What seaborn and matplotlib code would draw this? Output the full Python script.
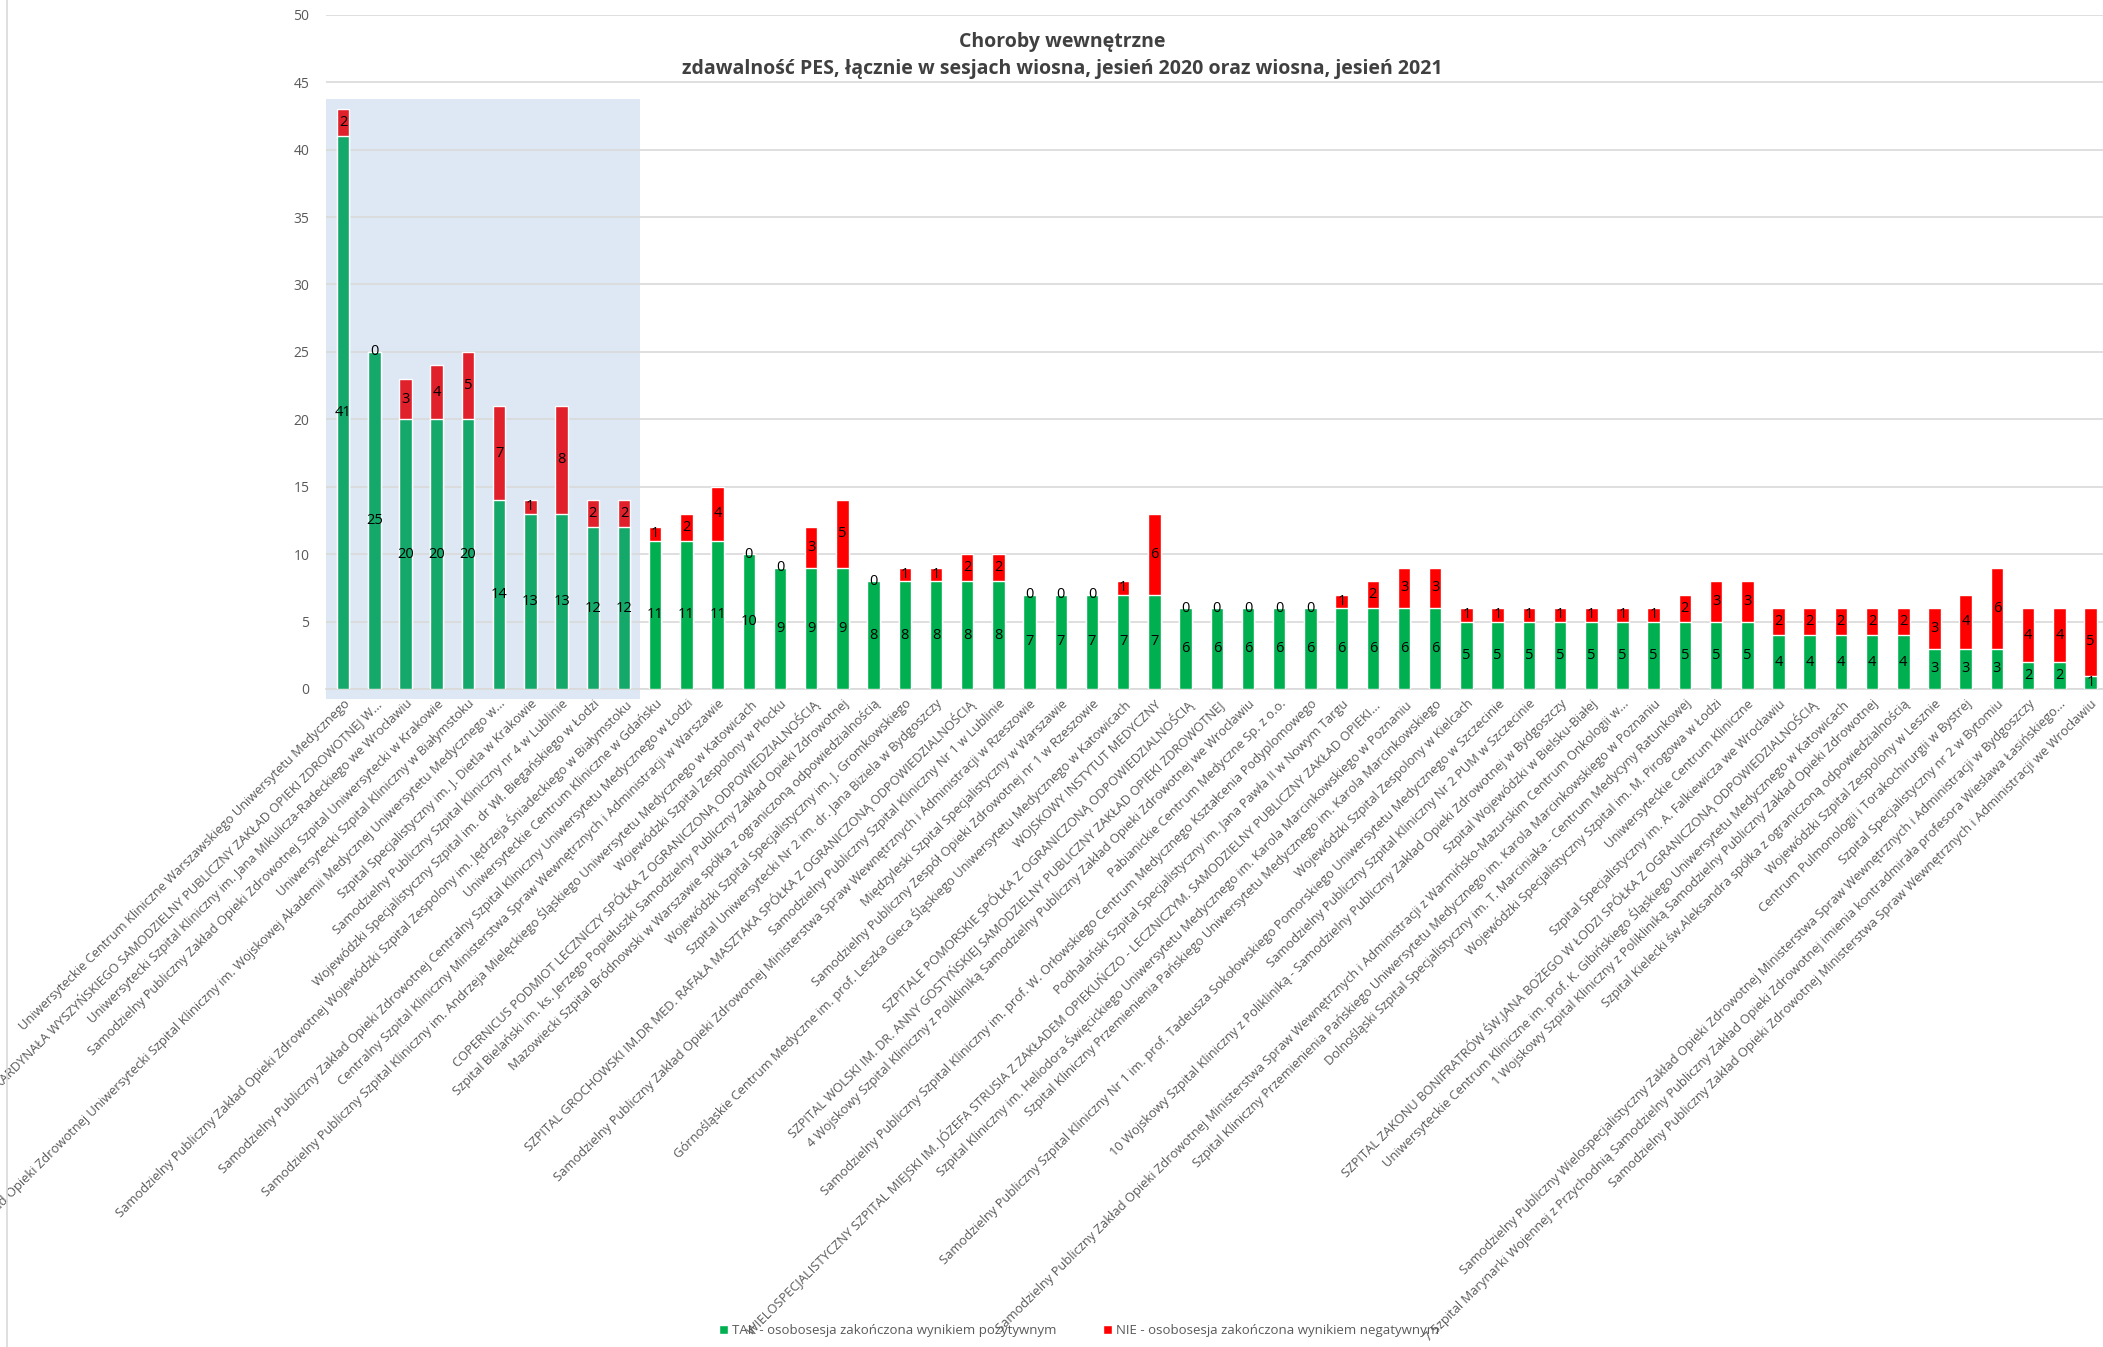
import pandas as pd
import matplotlib
matplotlib.use("Agg")
import matplotlib.pyplot as plt
import seaborn as sns
from matplotlib.patches import Rectangle, Patch
from matplotlib.lines import Line2D

szpitale = [
    "Uniwersyteckie Centrum Kliniczne Warszawskiego Uniwersytetu Medycznego",
    "WOJEWÓDZKI SZPITAL SPECJALISTYCZNY IM. STEFANA KARDYNAŁA WYSZYŃSKIEGO SAMODZIELNY PUBLICZNY ZAKŁAD OPIEKI ZDROWOTNEJ W...",
    "Uniwersytecki Szpital Kliniczny im. Jana Mikulicza-Radeckiego we Wrocławiu",
    "Samodzielny Publiczny Zakład Opieki Zdrowotnej Szpital Uniwersytecki w Krakowie",
    "Uniwersytecki Szpital Kliniczny w Białymstoku",
    "Samodzielny Publiczny Zakład Opieki Zdrowotnej Uniwersytecki Szpital Kliniczny im. Wojskowej Akademii Medycznej Uniwersytetu Medycznego w...",
    "Szpital Specjalistyczny im. J. Dietla w Krakowie",
    "Samodzielny Publiczny Szpital Kliniczny nr 4 w Lublinie",
    "Wojewódzki Specjalistyczny Szpital im. dr Wł. Biegańskiego w Łodzi",
    "Samodzielny Publiczny Zakład Opieki Zdrowotnej Wojewódzki Szpital Zespolony im. Jędrzeja Śniadeckiego w Białymstoku",
    "Uniwersyteckie Centrum Kliniczne w Gdańsku",
    "Samodzielny Publiczny Zakład Opieki Zdrowotnej Centralny Szpital Kliniczny Uniwersytetu Medycznego w Łodzi",
    "Centralny Szpital Kliniczny Ministerstwa Spraw Wewnętrznych i Administracji w Warszawie",
    "Samodzielny Publiczny Szpital Kliniczny im. Andrzeja Mielęckiego Śląskiego Uniwersytetu Medycznego w Katowicach",
    "Wojewódzki Szpital Zespolony w Płocku",
    "COPERNICUS PODMIOT LECZNICZY SPÓŁKA Z OGRANICZONĄ ODPOWIEDZIALNOŚCIĄ",
    "Szpital Bielański im. ks. Jerzego Popiełuszki Samodzielny Publiczny Zakład Opieki Zdrowotnej",
    "Mazowiecki Szpital Bródnowski w Warszawie spółka z ograniczoną odpowiedzialnością",
    "Wojewódzki Szpital Specjalistyczny im. J. Gromkowskiego",
    "Szpital Uniwersytecki Nr 2 im. dr. Jana Biziela w Bydgoszczy",
    "SZPITAL GROCHOWSKI IM.DR MED. RAFAŁA MASZTAKA SPÓŁKA Z OGRANICZONĄ ODPOWIEDZIALNOŚCIĄ",
    "Samodzielny Publiczny Szpital Kliniczny Nr 1 w Lublinie",
    "Samodzielny Publiczny Zakład Opieki Zdrowotnej Ministerstwa Spraw Wewnętrznych i Administracji w Rzeszowie",
    "Międzyleski Szpital Specjalistyczny w Warszawie",
    "Samodzielny Publiczny Zespół Opieki Zdrowotnej nr 1 w Rzeszowie",
    "Górnośląskie Centrum Medyczne im. prof. Leszka Gieca Śląskiego Uniwersytetu Medycznego w Katowicach",
    "WOJSKOWY INSTYTUT MEDYCZNY",
    "SZPITALE POMORSKIE SPÓŁKA Z OGRANICZONĄ ODPOWIEDZIALNOŚCIĄ",
    "SZPITAL WOLSKI IM. DR. ANNY GOSTYŃSKIEJ SAMODZIELNY PUBLICZNY ZAKŁAD OPIEKI ZDROWOTNEJ",
    "4 Wojskowy Szpital Kliniczny z Polikliniką Samodzielny Publiczny Zakład Opieki Zdrowotnej we Wrocławiu",
    "Pabianickie Centrum Medyczne Sp. z o.o.",
    "Samodzielny Publiczny Szpital Kliniczny im. prof. W. Orłowskiego Centrum Medycznego Kształcenia Podyplomowego",
    "Podhalański Szpital Specjalistyczny im. Jana Pawła II w Nowym Targu",
    "WIELOSPECJALISTYCZNY SZPITAL MIEJSKI IM. JÓZEFA STRUSIA Z ZAKŁADEM OPIEKUŃCZO - LECZNICZYM. SAMODZIELNY PUBLICZNY ZAKŁAD OPIEKI...",
    "Szpital Kliniczny im. Heliodora Święcickiego Uniwersytetu Medycznego im. Karola Marcinkowskiego w Poznaniu",
    "Szpital Kliniczny Przemienienia Pańskiego Uniwersytetu Medycznego im. Karola Marcinkowskiego",
    "Wojewódzki Szpital Zespolony w Kielcach",
    "Samodzielny Publiczny Szpital Kliniczny Nr 1 im. prof. Tadeusza Sokołowskiego Pomorskiego Uniwersytetu Medycznego w Szczecinie",
    "Samodzielny Publiczny Szpital Kliniczny Nr 2 PUM w Szczecinie",
    "10 Wojskowy Szpital Kliniczny z Polikliniką - Samodzielny Publiczny Zakład Opieki Zdrowotnej w Bydgoszczy",
    "Szpital Wojewódzki w Bielsku-Białej",
    "Samodzielny Publiczny Zakład Opieki Zdrowotnej Ministerstwa Spraw Wewnętrznych i Administracji z Warmińsko-Mazurskim Centrum Onkologii w...",
    "Szpital Kliniczny Przemienienia Pańskiego Uniwersytetu Medycznego im. Karola Marcinkowskiego w Poznaniu",
    "Dolnośląski Szpital Specjalistyczny im. T. Marciniaka - Centrum Medycyny Ratunkowej",
    "Wojewódzki Specjalistyczny Szpital im. M. Pirogowa w Łodzi",
    "Uniwersyteckie Centrum Kliniczne",
    "Szpital Specjalistyczny im. A. Falkiewicza we Wrocławiu",
    "SZPITAL ZAKONU BONIFRATRÓW ŚW.JANA BOŻEGO W ŁODZI SPÓŁKA Z OGRANICZONĄ ODPOWIEDZIALNOŚCIĄ",
    "Uniwersyteckie Centrum Kliniczne im. prof. K. Gibińskiego Śląskiego Uniwersytetu Medycznego w Katowicach",
    "1 Wojskowy Szpital Kliniczny z Polikliniką Samodzielny Publiczny Zakład Opieki Zdrowotnej",
    "Szpital Kielecki św.Aleksandra spółka z ograniczoną odpowiedzialnością",
    "Wojewódzki Szpital Zespolony w Lesznie",
    "Centrum Pulmonologii i Torakochirurgii w Bystrej",
    "Szpital Specjalistyczny nr 2 w Bytomiu",
    "Samodzielny Publiczny Wielospecjalistyczny Zakład Opieki Zdrowotnej Ministerstwa Spraw Wewnętrznych i Administracji w Bydgoszczy",
    "7 Szpital Marynarki Wojennej z Przychodnią Samodzielny Publiczny Zakład Opieki Zdrowotnej imienia kontradmirała profesora Wiesława Łasińskiego...",
    "Samodzielny Publiczny Zakład Opieki Zdrowotnej Ministerstwa Spraw Wewnętrznych i Administracji we Wrocławiu",
]

tak = [41, 25, 20, 20, 20, 14, 13, 13, 12, 12,
       11, 11, 11, 10, 9, 9, 9, 8, 8, 8, 8, 8,
       7, 7, 7, 7, 7, 6, 6, 6, 6, 6, 6, 6, 6, 6,
       5, 5, 5, 5, 5, 5, 5, 5, 5, 5,
       4, 4, 4, 4, 4, 3, 3, 3, 2, 2, 1]
nie = [2, 0, 3, 4, 5, 7, 1, 8, 2, 2,
       1, 2, 4, 0, 0, 3, 5, 0, 1, 1, 2, 2,
       0, 0, 0, 1, 6, 0, 0, 0, 0, 0, 1, 2, 3, 3,
       1, 1, 1, 1, 1, 1, 1, 2, 3, 3,
       2, 2, 2, 2, 2, 3, 4, 6, 4, 4, 5]

n_wyroznione = 10  # first bars in the shaded block

tytul = "Choroby wewnętrzne\nzdawalność PES, łącznie w sesjach wiosna, jesień 2020 oraz wiosna, jesień 2021"
leg_tak = "TAK - osobosesja zakończona wynikiem pozytywnym"
leg_nie = "NIE - osobosesja zakończona wynikiem negatywnym"

df = pd.DataFrame({"szpital": szpitale, "tak": tak, "nie": nie})
df["razem"] = df["tak"] + df["nie"]

sns.set_theme(style="white")
plt.rcParams["font.family"] = ["Open Sans", "DejaVu Sans"]

GREEN, RED = "#00B050", "#FF0000"
GREEN_IN, RED_IN = "#14A86A", "#E0202B"

fig = plt.figure(figsize=(21.03, 13.47), dpi=100)
ax = fig.add_axes([0.155, 0.4885, 0.845, 0.5005])

# stacked look: total in red, green drawn over it
sns.barplot(data=df, x="szpital", y="razem", color=RED, width=0.4,
            saturation=1, ax=ax, zorder=2)
sns.barplot(data=df, x="szpital", y="tak", color=GREEN, width=0.4,
            saturation=1, ax=ax, zorder=3)

n = len(df)
for i, p in enumerate(ax.patches):
    if i % n < n_wyroznione:
        p.set_facecolor(RED_IN if i < n else GREEN_IN)

# shaded block behind the leading bars
ax.add_patch(Rectangle((-0.55, -0.75), n_wyroznione + 0.07, 44.5,
                       facecolor="#DDE8F4", edgecolor="none", zorder=0,
                       clip_on=False))

for i, row in df.iterrows():
    ax.text(i, row["tak"] / 2, str(row["tak"]), ha="center", va="center",
            fontsize=10.5, color="black", zorder=5)
    ax.text(i, row["tak"] + row["nie"] / 2, str(row["nie"]), ha="center",
            va="center", fontsize=10.5, color="black", zorder=5)

ax.set_xlim(-0.55, 56.4)
ax.set_ylim(0, 50)
ax.set_yticks(range(0, 51, 5))
ax.yaxis.grid(True, color="#D9D9D9", linewidth=1.2, zorder=1)
ax.set_axisbelow(True)
for s in ["top", "right", "left"]:
    ax.spines[s].set_visible(False)
ax.spines["bottom"].set_color("#D9D9D9")
ax.spines["bottom"].set_linewidth(1.2)
ax.set_xlabel("")
ax.set_ylabel("")
ax.tick_params(axis="y", labelsize=10, labelcolor="#595959", length=0, pad=12)
ax.tick_params(axis="x", labelsize=9.3, labelcolor="#595959", length=0, pad=6)
plt.setp(ax.get_xticklabels(), rotation=45, ha="right", rotation_mode="anchor")

fig.text(0.505, 0.9587, tytul, ha="center", va="center", fontsize=14,
         fontweight="bold", color="#404040", linespacing=1.45)

handles = [Patch(facecolor=GREEN, label=leg_tak), Patch(facecolor=RED, label=leg_nie)]
fig.legend(handles=handles, loc="center", bbox_to_anchor=(0.513, 0.012), ncol=2,
           frameon=False, fontsize=9.5, labelcolor="#595959", handlelength=0.7,
           handleheight=0.7, columnspacing=3.5, handletextpad=0.3)

fig.add_artist(Line2D([0.0035, 0.0035], [0, 1], color="#D9D9D9", linewidth=1.2))

fig.savefig("out.png", dpi=100)
